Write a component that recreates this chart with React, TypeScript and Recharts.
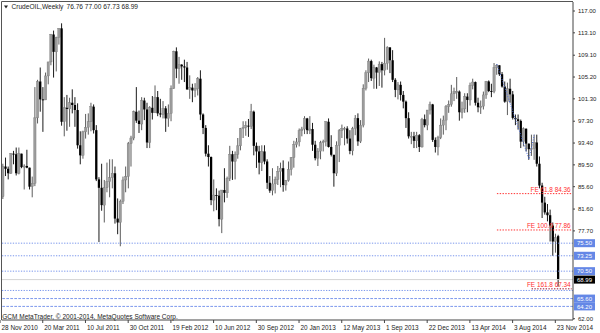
import React from "react";
import { Bar, ComposedChart, Line, ReferenceLine, XAxis, YAxis } from "recharts";

// Weekly WTI bars, 28 Nov 2010 .. 23 Nov 2014.
const opens = [
  83.8, 89.2, 88.8, 88.0, 91.5, 91.4, 88.0, 91.5, 89.1, 89.3, 89.0, 85.6, 86.2, 97.9, 104.4, 101.2,
  101.1, 105.4, 107.9, 112.8, 109.7, 112.3, 113.9, 97.2, 99.7, 99.5, 100.6, 100.2, 99.3, 93.0, 91.2, 95.4,
  96.2, 97.2, 99.9, 95.7, 86.9, 85.4, 82.3, 85.4, 86.5, 87.2, 88.0, 79.9, 79.2, 83.0, 86.8, 87.4,
  93.3, 94.3, 99.0, 97.4, 96.8, 101.0, 99.4, 93.5, 99.7, 98.8, 101.6, 98.7, 98.5, 99.6, 97.8, 98.7,
  103.2, 109.8, 106.7, 107.4, 107.1, 106.9, 103.0, 103.3, 102.8, 103.1, 104.9, 98.5, 96.1, 91.5, 90.9, 83.2,
  84.1, 84.0, 79.8, 85.0, 84.5, 87.1, 91.4, 90.1, 91.4, 92.9, 96.0, 96.2, 96.5, 96.4, 99.0, 92.9,
  91.9, 89.9, 91.9, 90.1, 86.3, 84.9, 86.1, 86.9, 88.3, 88.9, 85.9, 86.7, 88.7, 90.8, 93.1, 93.6,
  95.6, 95.9, 97.8, 95.7, 95.9, 93.1, 90.7, 91.95, 93.45, 93.7, 97.2, 92.7, 91.3, 88.0, 93.0, 95.6,
  96.0, 96.0, 94.2, 92.0, 96.0, 97.85, 93.7, 96.6, 103.2, 105.95, 108.05, 105.0, 106.9, 106.0, 107.5, 106.4,
  107.65, 110.5, 108.2, 104.7, 102.9, 103.8, 102.0, 100.8, 97.85, 94.6, 94.6, 93.8, 94.8, 92.7, 97.65, 96.6,
  99.3, 100.3, 93.96, 92.7, 94.4, 96.6, 97.5, 99.9, 100.3, 102.2, 102.6, 102.6, 98.9, 99.5, 101.7, 101.1,
  103.7, 104.3, 100.6, 99.8, 99.99, 102.0, 104.4, 102.7, 102.66, 106.9, 107.3, 105.7, 103.5, 100.8, 103.1, 102.1,
  97.9, 97.65, 97.35, 93.65, 95.96, 93.3, 92.3, 92.4, 93.5, 89.7, 85.8, 82.75, 81.0, 80.5, 78.65, 75.8,
  76.76,
];
const highs = [
  89.7, 90.8, 89.2, 91.6, 92.0, 92.6, 92.6, 91.5, 89.6, 92.2, 89.0, 87.4, 103.4, 104.7, 106.9, 103.4,
  106.0, 107.9, 112.9, 113.5, 112.4, 113.9, 114.8, 101.6, 102.0, 101.5, 103.0, 101.6, 100.5, 95.5, 95.6, 98.6,
  98.7, 100.6, 100.3, 96.6, 87.3, 89.7, 86.8, 89.9, 90.5, 90.5, 89.2, 83.5, 83.3, 87.4, 89.2, 93.6,
  94.7, 99.2, 103.4, 99.2, 101.6, 101.5, 100.6, 100.0, 101.8, 103.7, 102.7, 101.3, 100.9, 100.0, 100.3, 103.7,
  109.9, 110.5, 108.8, 107.5, 108.3, 107.9, 105.5, 104.0, 104.1, 105.2, 106.4, 98.7, 96.6, 93.0, 91.0, 86.9,
  85.3, 84.9, 85.0, 88.9, 87.4, 92.9, 92.0, 91.9, 94.3, 96.1, 97.3, 97.3, 97.7, 100.4, 99.2, 93.5,
  92.9, 93.0, 93.0, 90.5, 87.5, 88.9, 87.4, 89.3, 89.9, 90.3, 86.8, 90.1, 90.9, 93.8, 94.3, 96.0,
  96.3, 98.2, 97.9, 98.2, 97.0, 93.8, 92.5, 93.8, 94.0, 97.3, 97.8, 94.8, 91.3, 93.7, 95.9, 96.7,
  96.3, 96.4, 95.7, 96.3, 98.4, 98.7, 97.5, 103.9, 106.4, 108.5, 108.3, 107.4, 107.0, 108.0, 107.9, 112.2,
  110.7, 110.5, 110.0, 105.0, 104.3, 104.4, 102.7, 101.0, 98.9, 95.4, 95.4, 95.4, 95.0, 97.9, 98.5, 99.3,
  100.8, 100.4, 94.4, 94.7, 97.8, 98.3, 100.2, 101.0, 103.8, 103.3, 105.2, 102.8, 100.8, 102.3, 102.3, 104.2,
  104.9, 104.4, 101.5, 101.0, 102.6, 104.5, 104.6, 104.0, 107.7, 107.5, 107.3, 106.1, 104.4, 104.2, 104.9, 102.7,
  98.5, 98.5, 97.6, 96.2, 96.0, 93.3, 94.9, 94.9, 94.9, 91.0, 86.3, 83.8, 82.5, 81.5, 79.2, 77.2,
  77.0,
];
const lows = [
  83.4, 87.5, 86.9, 87.9, 89.6, 87.6, 87.8, 88.9, 85.1, 88.9, 85.1, 83.7, 85.7, 96.9, 99.0, 95.4,
  101.1, 103.9, 107.3, 105.1, 106.2, 111.0, 96.5, 94.6, 95.6, 96.3, 98.7, 96.3, 92.4, 89.6, 90.6, 94.2,
  94.9, 95.5, 95.1, 86.6, 75.7, 81.3, 79.2, 84.6, 83.7, 85.3, 79.0, 77.1, 74.95, 82.5, 84.6, 85.3,
  89.2, 93.9, 97.0, 95.2, 95.7, 97.5, 92.5, 92.5, 97.6, 98.8, 98.2, 98.0, 97.8, 95.4, 96.3, 97.3,
  103.1, 105.0, 104.0, 104.7, 104.3, 102.9, 101.3, 100.7, 101.6, 101.9, 97.5, 95.0, 91.0, 89.2, 82.3, 81.2,
  81.4, 78.5, 77.3, 82.8, 83.6, 86.6, 86.8, 86.9, 90.6, 92.1, 94.3, 94.7, 94.5, 95.9, 91.2, 88.95,
  87.8, 88.4, 89.6, 85.2, 84.5, 84.05, 84.4, 85.9, 85.5, 84.7, 84.9, 86.5, 87.6, 89.0, 92.6, 92.8,
  94.6, 95.0, 95.0, 95.0, 92.0, 90.3, 89.3, 90.5, 91.9, 92.8, 92.6, 91.0, 85.6, 87.5, 90.0, 94.3,
  93.0, 93.3, 91.4, 91.2, 94.8, 92.9, 93.4, 96.2, 102.8, 104.3, 104.5, 103.1, 103.1, 103.6, 103.3, 105.5,
  106.5, 105.9, 104.3, 101.6, 101.2, 101.0, 99.6, 96.1, 94.2, 93.2, 92.5, 92.5, 91.8, 92.6, 96.2, 95.7,
  98.5, 93.6, 91.7, 91.2, 94.1, 94.9, 95.7, 98.8, 99.9, 100.9, 101.3, 97.4, 97.8, 98.8, 98.9, 100.1,
  103.0, 100.1, 98.9, 98.6, 99.4, 101.3, 102.5, 101.6, 102.3, 105.6, 105.4, 103.3, 100.6, 98.4, 100.6, 97.6,
  96.6, 95.8, 92.5, 92.8, 91.9, 90.4, 91.1, 90.4, 89.2, 85.3, 80.0, 80.6, 79.4, 75.8, 73.25, 73.8,
  67.73,
];
const closes = [
  89.2, 88.8, 88.0, 91.5, 91.4, 88.0, 91.5, 89.1, 89.3, 89.0, 85.6, 86.2, 97.9, 104.4, 101.2, 101.1,
  105.4, 107.9, 112.8, 109.7, 112.3, 113.9, 97.2, 99.7, 99.5, 100.6, 100.2, 99.3, 93.0, 91.2, 95.4, 96.2,
  97.2, 99.9, 95.7, 86.9, 85.4, 82.3, 85.4, 86.5, 87.2, 88.0, 79.9, 79.2, 83.0, 86.8, 87.4, 93.3,
  94.3, 99.0, 97.4, 96.8, 101.0, 99.4, 93.5, 99.7, 98.8, 101.6, 98.7, 98.5, 99.6, 97.8, 98.7, 103.2,
  109.8, 106.7, 107.4, 107.1, 106.9, 103.0, 103.3, 102.8, 103.1, 104.9, 98.5, 96.1, 91.5, 90.9, 83.2, 84.1,
  84.0, 79.8, 85.0, 84.5, 87.1, 91.4, 90.1, 91.4, 92.9, 96.0, 96.2, 96.5, 96.4, 99.0, 92.9, 91.9,
  89.9, 91.9, 90.1, 86.3, 84.9, 86.1, 86.9, 88.3, 88.9, 85.9, 86.7, 88.7, 90.8, 93.1, 93.6, 95.6,
  95.9, 97.8, 95.7, 95.9, 93.1, 90.7, 91.95, 93.45, 93.7, 97.2, 92.7, 91.3, 88.0, 93.0, 95.6, 96.0,
  96.0, 94.2, 92.0, 96.0, 97.85, 93.7, 96.6, 103.2, 105.95, 108.05, 105.0, 106.9, 106.0, 107.5, 106.4, 107.65,
  110.5, 108.2, 104.7, 102.9, 103.8, 102.0, 100.8, 97.85, 94.6, 94.6, 93.8, 94.8, 92.7, 97.65, 96.6, 99.3,
  100.3, 93.96, 92.7, 94.4, 96.6, 97.5, 99.9, 100.3, 102.2, 102.6, 102.6, 98.9, 99.5, 101.7, 101.1, 103.7,
  104.3, 100.6, 99.8, 99.99, 102.0, 104.4, 102.7, 102.66, 106.9, 107.3, 105.7, 103.5, 100.8, 103.1, 102.1, 97.9,
  97.65, 97.35, 93.65, 95.96, 93.3, 92.3, 92.4, 93.5, 89.7, 85.8, 82.75, 81.0, 80.5, 78.65, 75.8, 76.5,
  68.99,
];

const dateLabels = [
  "28 Nov 2010", "20 Mar 2011", "10 Jul 2011", "30 Oct 2011", "19 Feb 2012", "10 Jun 2012", "30 Sep 2012",
  "20 Jan 2013", "12 May 2013", "1 Sep 2013", "22 Dec 2013", "13 Apr 2014", "3 Aug 2014", "23 Nov 2014",
];
const LABEL_EVERY = 16;
// 73.80 / 69.90 / 65.90 sit under the level boxes in the terminal, so they are left out
const priceTicks = [117.0, 113.1, 109.1, 105.2, 101.3, 97.3, 93.4, 89.5, 85.6, 81.6, 77.7, 62.0];

// horizontal levels drawn by the trader
const dottedLevels = [75.5, 73.25, 70.5];
const dashedLevels = [65.6, 64.2];
const unlabelledLevel = 67.05;
const feNames = ["FE 61.8", "FE 100.0", "FE 161.8"];
const feValues = [84.36, 77.86, 67.34];
const feStartBars = [185, 185, 198];
// fibo expansion anchor points (bar index, price)
const zzBars = [185, 197, 199];
const zzValues = [107.5, 90.5, 94.88];

const PAD_BARS = 5;
const rows: any[] = Array.from({ length: closes.length + PAD_BARS }, (_, i) =>
  i < closes.length
    ? { i, o: opens[i], h: highs[i], l: lows[i], c: closes[i], range: [lows[i], highs[i]] }
    : { i },
);
zzBars.forEach((b, k) => {
  rows[b].zz = zzValues[k];
});
const lastBar = rows.length - 1;
const lastClose = closes[closes.length - 1];

const FONT = "'Liberation Sans', Arial, sans-serif";
const LEVEL_BLUE = "#7b97ec";
const BOX_BLUE = "#6487e6";

function Candle(props: any) {
  const { x, y, width, height, payload } = props;
  if (!payload || payload.o == null) return null;
  const { o, h, l, c } = payload;
  const top = Math.min(y, y + height);
  const span = Math.abs(height);
  const k = h === l ? 0 : span / (h - l);
  const yO = top + (h - o) * k;
  const yC = top + (h - c) * k;
  const up = c >= o;
  const mid = x + width / 2;
  return (
    <g>
      <line x1={mid} x2={mid} y1={top} y2={top + span} stroke={up ? "#4a4a4a" : "#000"} strokeWidth={0.9} />
      <rect
        x={x}
        y={Math.min(yO, yC)}
        width={width}
        height={Math.max(0.9, Math.abs(yO - yC))}
        fill={up ? "#9c9c9c" : "#000"}
        stroke={up ? "#7a7a7a" : "none"}
        strokeWidth={0.4}
      />
    </g>
  );
}

function DateTick({ x, payload }: any) {
  const label = dateLabels[payload.value / LABEL_EVERY];
  return (
    <g>
      <line x1={x - 3} x2={x - 3} y1={320} y2={323} stroke="#444" />
      <text x={x - 1.5} y={330.3} fontSize={6.4} fontFamily={FONT} fill="#222">
        {label}
      </text>
    </g>
  );
}

function PriceTick({ x, y, payload }: any) {
  return (
    <g>
      <line x1={x} x2={x + 2} y1={y} y2={y} stroke="#444" />
      <text x={x + 5} y={y + 2.2} fontSize={6} fontFamily={FONT} fill="#222">
        {Number(payload.value).toFixed(2)}
      </text>
    </g>
  );
}

function AxisBox({ viewBox, text, fill }: any) {
  if (!viewBox) return null;
  const right = viewBox.x + viewBox.width;
  return (
    <g>
      <rect x={right + 1} y={viewBox.y - 4} width={21} height={8} fill={fill} />
      <text x={right + 11.5} y={viewBox.y + 2.2} textAnchor="middle" fontSize={6} fontFamily={FONT} fill="#fff">
        {text}
      </text>
    </g>
  );
}

function FeLabel({ viewBox, text }: any) {
  if (!viewBox) return null;
  return (
    <text
      x={viewBox.x + viewBox.width - 1}
      y={viewBox.y - 2}
      textAnchor="end"
      fontSize={6.4}
      fontFamily={FONT}
      fill="#ff3030"
    >
      {text}
    </text>
  );
}

export default function App() {
  return (
    <div style={{ position: "relative", width: 600, height: 333, background: "#fff" }}>
      <style>{"body{margin:0}"}</style>
      <ComposedChart width={600} height={333} data={rows} margin={{ top: 2, right: 0, bottom: 0, left: 1.7 }}>
        <XAxis
          dataKey="i"
          type="category"
          ticks={dateLabels.map((_, k) => k * LABEL_EVERY)}
          interval={0}
          height={13}
          tickSize={0}
          tickMargin={0}
          tickLine={false}
          axisLine={{ stroke: "#444" }}
          tick={<DateTick />}
        />
        <YAxis
          orientation="right"
          type="number"
          width={27}
          domain={[61.77, 118.61]}
          allowDataOverflow
          ticks={priceTicks}
          interval={0}
          tickSize={0}
          tickMargin={0}
          tickLine={false}
          axisLine={{ stroke: "#444" }}
          tick={<PriceTick />}
        />
        {dottedLevels.map((v) => (
          <ReferenceLine
            key={`d${v}`}
            y={v}
            stroke={LEVEL_BLUE}
            strokeDasharray="1.3 1.4"
            label={<AxisBox text={v.toFixed(2)} fill={BOX_BLUE} />}
          />
        ))}
        <ReferenceLine y={unlabelledLevel} stroke={LEVEL_BLUE} strokeDasharray="1.3 1.4" />
        {dashedLevels.map((v) => (
          <ReferenceLine
            key={`s${v}`}
            y={v}
            stroke={LEVEL_BLUE}
            strokeDasharray="2.7 1.3"
            label={<AxisBox text={v.toFixed(2)} fill={BOX_BLUE} />}
          />
        ))}
        <ReferenceLine
          y={lastClose}
          stroke="#d4d4d4"
          label={<AxisBox text={lastClose.toFixed(2)} fill="#000" />}
        />
        {feValues.map((v, k) => (
          <ReferenceLine
            key={`fe${k}`}
            segment={[
              { x: feStartBars[k], y: v },
              { x: lastBar, y: v },
            ]}
            stroke={k === 2 ? "#a0102c" : "#ff3030"}
            strokeDasharray="1.4 1.4"
            label={<FeLabel text={`${feNames[k]} ${v.toFixed(2)}`} />}
          />
        ))}
        <Bar dataKey="range" barSize={2.3} shape={<Candle />} isAnimationActive={false} />
        <Line
          dataKey="zz"
          connectNulls
          dot={false}
          stroke="#4a6ee0"
          strokeWidth={1}
          strokeDasharray="1 1.6"
          isAnimationActive={false}
        />
      </ComposedChart>
      <svg
        width={600}
        height={333}
        style={{ position: "absolute", left: 0, top: 0, pointerEvents: "none" }}
      >
        <line x1={1.5} x2={1.5} y1={1.5} y2={320} stroke="#555" />
        <line x1={1.5} x2={573} y1={1.5} y2={1.5} stroke="#555" />
        <polygon points="4,5.5 8,5.5 6,8.5" fill="#222" />
        <text x={11.5} y={9.4} fontSize={6.6} fontFamily={FONT} fill="#222">
          CrudeOIL,Weekly{"  "}
          <tspan x={66.5}>76.76 77.00 67.73 68.99</tspan>
        </text>
        <text x={2.3} y={318.8} fontSize={6.5} fontFamily={FONT} fill="#222">
          GCM MetaTrader, © 2001-2014, MetaQuotes Software Corp.
        </text>
      </svg>
    </div>
  );
}
